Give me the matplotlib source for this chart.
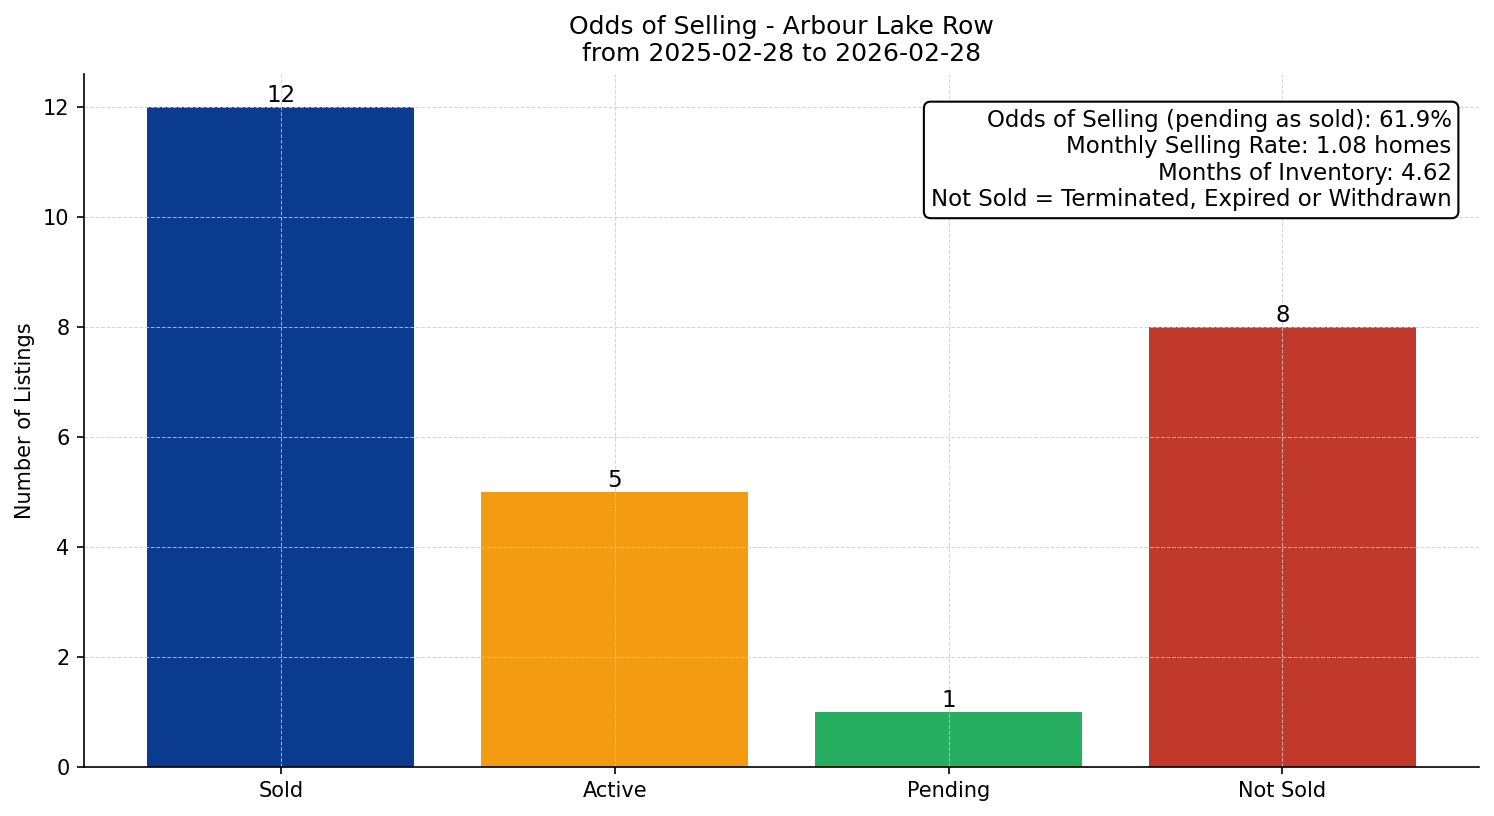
import matplotlib.pyplot as plt

# Data for the chart
categories = ['Sold', 'Active', 'Pending', 'Not Sold']
counts = [12, 5, 1, 8]
colors = ['#0b3b8f', '#f39c12', '#27ae60', '#c0392b']

info_lines = [
    'Odds of Selling (pending as sold): 61.9%',
    'Monthly Selling Rate: 1.08 homes',
    'Months of Inventory: 4.62',
    'Not Sold = Terminated, Expired or Withdrawn',
]

fig, ax = plt.subplots(figsize=(9.96, 5.44), dpi=150)

bars = ax.bar(categories, counts, color=colors, width=0.8)
ax.bar_label(bars, labels=[str(c) for c in counts], fontsize=11)

ax.set_title('Odds of Selling - Arbour Lake Row\nfrom 2025-02-28 to 2026-02-28', fontsize=12)
ax.set_ylabel('Number of Listings', fontsize=10)
# grid stays on top of the bars, like the original
ax.grid(True, linestyle='--', linewidth=0.5, color='#cccccc', alpha=0.8)
ax.spines['top'].set_visible(False)
ax.spines['right'].set_visible(False)

ax.text(0.98, 0.95, '\n'.join(info_lines), transform=ax.transAxes,
        ha='right', va='top', fontsize=11,
        bbox=dict(boxstyle='round,pad=0.3', facecolor='white', edgecolor='black'))

plt.tight_layout(pad=0.7)
plt.savefig('out.png')
